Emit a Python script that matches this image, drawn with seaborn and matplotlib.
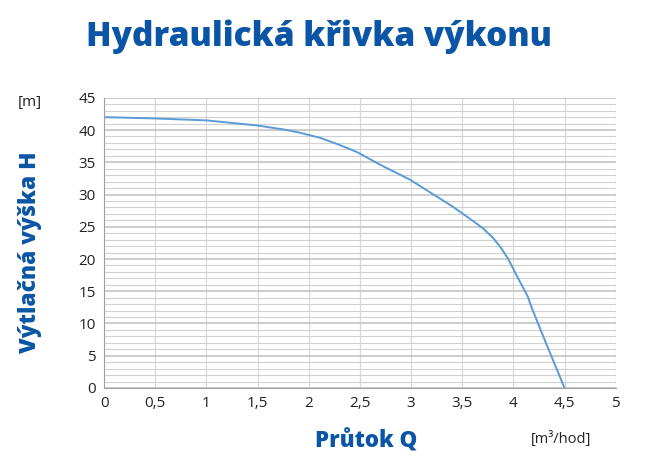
import matplotlib
matplotlib.use('Agg')
import matplotlib.pyplot as plt
import seaborn as sns
import pandas as pd
from matplotlib.ticker import MultipleLocator, FuncFormatter

# Hodnoty (průtok Q [m3/hod], výška H [m])
prutok = [0, 0.5, 1.0, 1.5, 1.75, 1.91, 2.11, 2.30, 2.47, 2.70, 2.99, 3.22, 3.40,
          3.57, 3.70, 3.80, 3.88, 3.95, 4.03, 4.14, 4.18, 4.32, 4.5]
vyska = [42.0, 41.8, 41.5, 40.7, 40.1, 39.6, 38.8, 37.7, 36.6, 34.6, 32.3, 30.0, 28.2,
         26.3, 24.8, 23.3, 21.7, 20.0, 17.5, 14.2, 12.4, 6.9, 0.0]

df = pd.DataFrame({'Q': prutok, 'H': vyska})

sns.set_style('white')
plt.rcParams['font.family'] = ['Open Sans', 'DejaVu Sans']

modra = '#0a55a5'

fig = plt.figure(figsize=(6.55, 4.68), dpi=100)
ax = fig.add_axes([0.159, 0.171, 0.781, 0.62])

sns.lineplot(data=df, x='Q', y='H', ax=ax, color='#5b9bd5', linewidth=1.4)

ax.set_xlim(0, 5)
ax.set_ylim(0, 45)
ax.xaxis.set_major_locator(MultipleLocator(0.5))
ax.yaxis.set_major_locator(MultipleLocator(5))
ax.yaxis.set_minor_locator(MultipleLocator(1))
ax.xaxis.set_major_formatter(FuncFormatter(lambda v, p: ('%g' % v).replace('.', ',')))

ax.grid(which='major', axis='y', color='#c4c4c4', linewidth=1.2)
ax.grid(which='major', axis='x', color='#d8d8d8', linewidth=0.9)
ax.grid(which='minor', axis='y', color='#d0d0d0', linewidth=0.8)
ax.set_axisbelow(True)
ax.tick_params(axis='both', which='both', length=0, labelsize=11, labelcolor='#222222', pad=6)

for side in ['top', 'right']:
    ax.spines[side].set_visible(False)
for side in ['left', 'bottom']:
    ax.spines[side].set_color('#a0a0a0')

ax.set_xlabel('')
ax.set_ylabel('')

# Texty
fig.text(0.487, 0.922, 'Hydraulická křivka výkonu', ha='center', va='center',
         fontsize=24, fontweight='heavy', color=modra)
fig.text(0.046, 0.462, 'Výtlačná výška H', ha='center', va='center', rotation=90,
         fontsize=16.3, fontweight='heavy', color=modra)
fig.text(0.046, 0.782, '[m]', ha='center', va='center', fontsize=11, color='#222222')
fig.text(0.559, 0.056, 'Průtok Q', ha='center', va='center',
         fontsize=16, fontweight='heavy', color=modra)
fig.text(0.857, 0.062, '[m³/hod]', ha='center', va='center', fontsize=10.5, color='#222222')

fig.savefig('out.png', dpi=100)
